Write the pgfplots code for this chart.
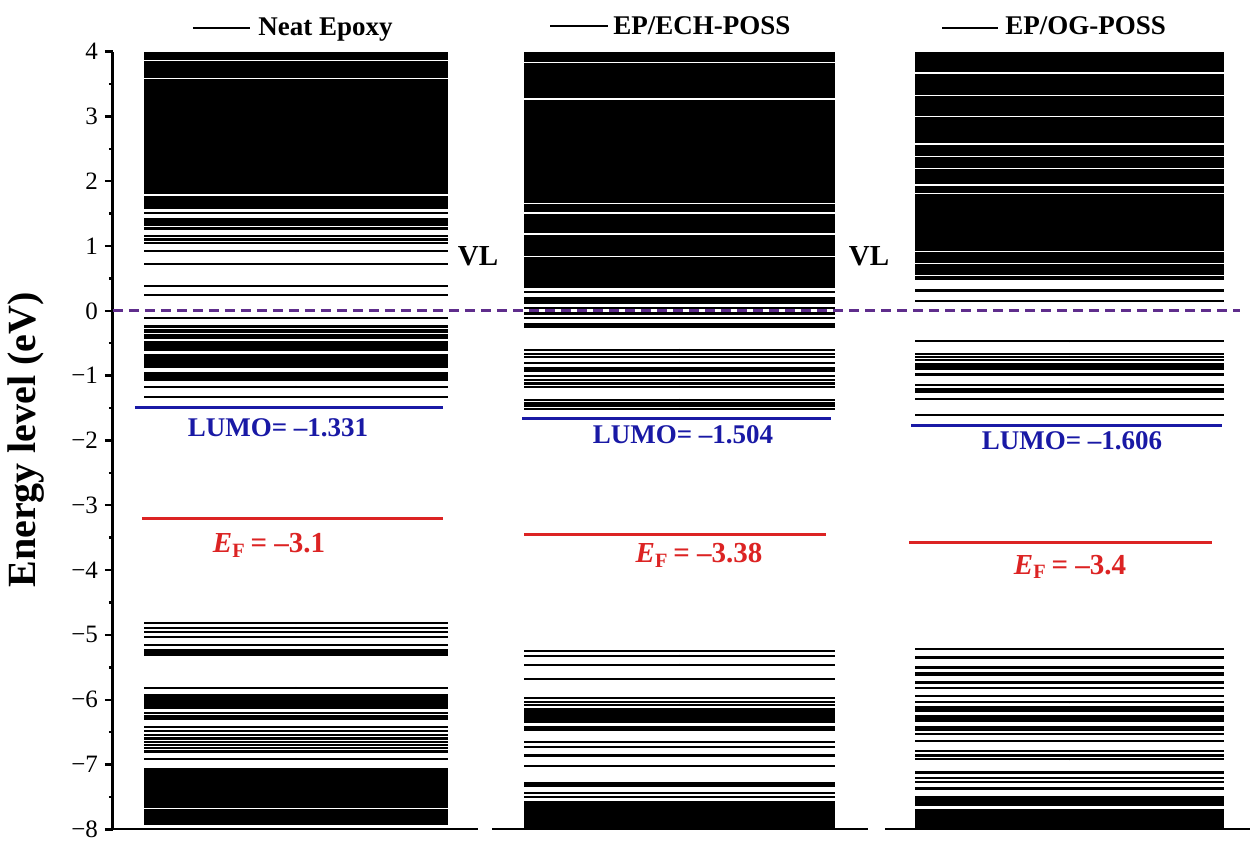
\documentclass[border=0pt]{standalone}
\usepackage{pgfplots}
\usepackage{pgfplotstable}
\pgfplotsset{compat=1.18}
\usepackage{fontspec}
\setmainfont{Liberation Serif}

\definecolor{lumoblue}{RGB}{25,25,165}
\definecolor{efred}{RGB}{220,35,35}
\definecolor{vlpurple}{RGB}{95,45,140}

% dense blocks of levels: a filled strip between two energies
\newcommand{\band}[4]{\addplot[fill=black, draw=none, forget plot] coordinates {(#1,#3) (#2,#3) (#2,#4) (#1,#4)};}
\newcommand{\bandA}[2]{\band{144}{448}{#1}{#2}}
\newcommand{\bandB}[2]{\band{524}{835}{#1}{#2}}
\newcommand{\bandC}[2]{\band{915}{1224}{#1}{#2}}

\pgfplotsset{
  levels/.style={black, only marks, mark=*, mark size=0.1pt,
    mark options={draw=none, fill=none}, forget plot,
    error bars/.cd, x dir=both, x fixed=#1, error mark=none,
    error bar style={line width=1.1pt}},
}

% single levels, eV
\pgfplotstableread{
level
1.51
1.27
1.16
1.10
1.05
0.92
0.72
0.386
0.25
-0.11
-0.24
-0.29
-0.33
-0.38
-0.42
-1.17
-1.33
-4.82
-4.89
-4.96
-5.03
-5.16
-5.815
-6.20
-6.25
-6.29
-6.42
-6.48
-6.54
-6.60
-6.65
-6.70
-6.75
-6.80
-6.91
}\neatlev
\pgfplotstableread{
level
0.29
-0.11
-0.60
-0.66
-0.715
-0.80
-1.01
-1.065
-1.12
-1.17
-1.37
-1.43
-1.47
-1.51
-5.25
-5.32
-5.46
-5.68
-5.97
-6.04
-6.08
-6.65
-6.73
-6.86
-7.02
-7.44
-7.50
}\echlev
\pgfplotstableread{
level
0.155
-0.47
-0.67
-0.715
-0.76
-0.82
-0.86
-0.90
-1.14
-1.36
-1.61
-5.22
-5.35
-5.82
-5.94
-6.04
-6.53
-6.64
-6.79
-6.86
-6.92
-7.21
-7.37
}\oglev

\begin{document}
\begin{tikzpicture}
\begin{axis}[
  scale only axis, width=568.5pt, height=388.85pt,
  xmin=113, xmax=1250, ymin=-8, ymax=4,
  axis x line=none, axis y line*=left,
  y axis line style={line width=1.5pt, -},
  ytick={-8,...,4},
  yticklabels={−8,−7,−6,−5,−4,−3,−2,−1,0,1,2,3,4},
  minor y tick num=1,
  tick align=outside, major tick length=4pt, minor tick length=2pt,
  every tick/.style={black, line width=1.2pt},
  yticklabel style={font=\fontsize{12.5}{12.5}\selectfont},
  clip=false,
]
\path (axis cs:0,4.797) rectangle (axis cs:1260,-8.304);

% Neat Epoxy
\bandA{4.00}{3.875}\bandA{3.855}{3.60}\bandA{3.58}{1.797}\bandA{1.777}{1.57}
\bandA{1.43}{1.31}\bandA{-0.47}{-0.62}\bandA{-0.66}{-0.885}\bandA{-0.95}{-1.08}
\bandA{-5.215}{-5.33}\bandA{-5.91}{-6.15}\bandA{-7.06}{-7.665}\bandA{-7.69}{-7.93}
\addplot[levels=152] table[x expr=296, y=level] {\neatlev};

% EP/ECH-POSS
\bandB{4.00}{3.84}\bandB{3.82}{3.28}\bandB{3.26}{1.667}\bandB{1.647}{1.518}
\bandB{1.498}{1.194}\bandB{1.174}{0.849}\bandB{0.829}{0.35}\bandB{0.21}{0.11}
\bandB{0.067}{-0.062}\bandB{-0.19}{-0.26}\bandB{-0.86}{-0.95}
\bandB{-6.13}{-6.36}\bandB{-6.41}{-6.49}\bandB{-7.27}{-7.34}\bandB{-7.56}{-8.00}
\addplot[levels=155.5] table[x expr=679.5, y=level] {\echlev};

% EP/OG-POSS
\bandC{4.00}{3.68}\bandC{3.66}{3.335}\bandC{3.315}{3.01}\bandC{2.99}{2.583}
\bandC{2.563}{2.388}\bandC{2.368}{2.208}\bandC{2.188}{1.95}\bandC{1.93}{1.816}
\bandC{1.796}{0.926}\bandC{0.906}{0.736}\bandC{0.716}{0.56}\bandC{0.54}{0.48}
\bandC{0.33}{0.29}\bandC{-0.96}{-1.01}\bandC{-1.19}{-1.27}
\bandC{-5.48}{-5.53}\bandC{-5.57}{-5.63}\bandC{-5.71}{-5.76}\bandC{-6.09}{-6.19}
\bandC{-6.24}{-6.35}\bandC{-6.40}{-6.48}\bandC{-7.10}{-7.14}\bandC{-7.26}{-7.29}
\bandC{-7.49}{-7.64}\bandC{-7.68}{-8.00}
\addplot[levels=154.5] table[x expr=1069.5, y=level] {\oglev};

% vacuum level
\addplot[white, line width=1.6pt, forget plot] coordinates {(113,0) (1240,0)};
\addplot[vlpurple, line width=1.6pt, dash pattern=on 5pt off 3pt, forget plot] coordinates {(113,0) (1240,0)};

% LUMO and Fermi levels
\addplot[lumoblue, line width=1.5pt, forget plot] coordinates {(135,-1.49) (443,-1.49)};
\addplot[lumoblue, line width=1.5pt, forget plot] coordinates {(522,-1.66) (831,-1.66)};
\addplot[lumoblue, line width=1.5pt, forget plot] coordinates {(911,-1.765) (1222,-1.765)};
\addplot[efred, line width=1.5pt, forget plot] coordinates {(142,-3.2) (443,-3.2)};
\addplot[efred, line width=1.5pt, forget plot] coordinates {(524,-3.45) (826,-3.45)};
\addplot[efred, line width=1.5pt, forget plot] coordinates {(909,-3.58) (1212,-3.58)};

% broken bottom axis
\draw[line width=1pt] (axis cs:113,-8) -- (axis cs:478,-8);
\draw[line width=1pt] (axis cs:492,-8) -- (axis cs:868,-8);
\draw[line width=1pt] (axis cs:885,-8) -- (axis cs:1250,-8);

% legend entries
\begin{scope}[every node/.style={inner sep=0pt, font=\fontsize{13.5}{14}\selectfont\bfseries}]
\draw[line width=0.8pt] (axis cs:193,4.367) -- (axis cs:250,4.367);
\node[anchor=base west] at (axis cs:258,4.255) {Neat Epoxy};
\draw[line width=0.8pt] (axis cs:550,4.40) -- (axis cs:608,4.40);
\node[anchor=base west] at (axis cs:613,4.27) {EP/ECH-POSS};
\draw[line width=0.8pt] (axis cs:942,4.367) -- (axis cs:998,4.367);
\node[anchor=base west] at (axis cs:1005,4.26) {EP/OG-POSS};

\node[anchor=base, text=lumoblue] at (axis cs:278,-1.944) {LUMO= –1.331};
\node[anchor=base, text=lumoblue] at (axis cs:683,-2.04) {LUMO= –1.504};
\node[anchor=base, text=lumoblue] at (axis cs:1072,-2.145) {LUMO= –1.606};

\node[anchor=base, text=efred, font=\fontsize{14.5}{15}\selectfont\bfseries] at (axis cs:269,-3.735) {\textit{E}\textsubscript{F}\,= –3.1};
\node[anchor=base, text=efred, font=\fontsize{14.5}{15}\selectfont\bfseries] at (axis cs:699,-3.89) {\textit{E}\textsubscript{F}\,= –3.38};
\node[anchor=base, text=efred, font=\fontsize{14.5}{15}\selectfont\bfseries] at (axis cs:1070,-4.07) {\textit{E}\textsubscript{F}\,= –3.4};

\node[anchor=base, font=\fontsize{14.5}{15}\selectfont\bfseries] at (axis cs:478,0.694) {VL};
\node[anchor=base, font=\fontsize{14.5}{15}\selectfont\bfseries] at (axis cs:869,0.694) {VL};

\node[rotate=90, font=\fontsize{20}{22}\selectfont\bfseries] at (axis cs:26,-1.99) {Energy level (eV)};
\end{scope}
\end{axis}
\end{tikzpicture}
\end{document}
